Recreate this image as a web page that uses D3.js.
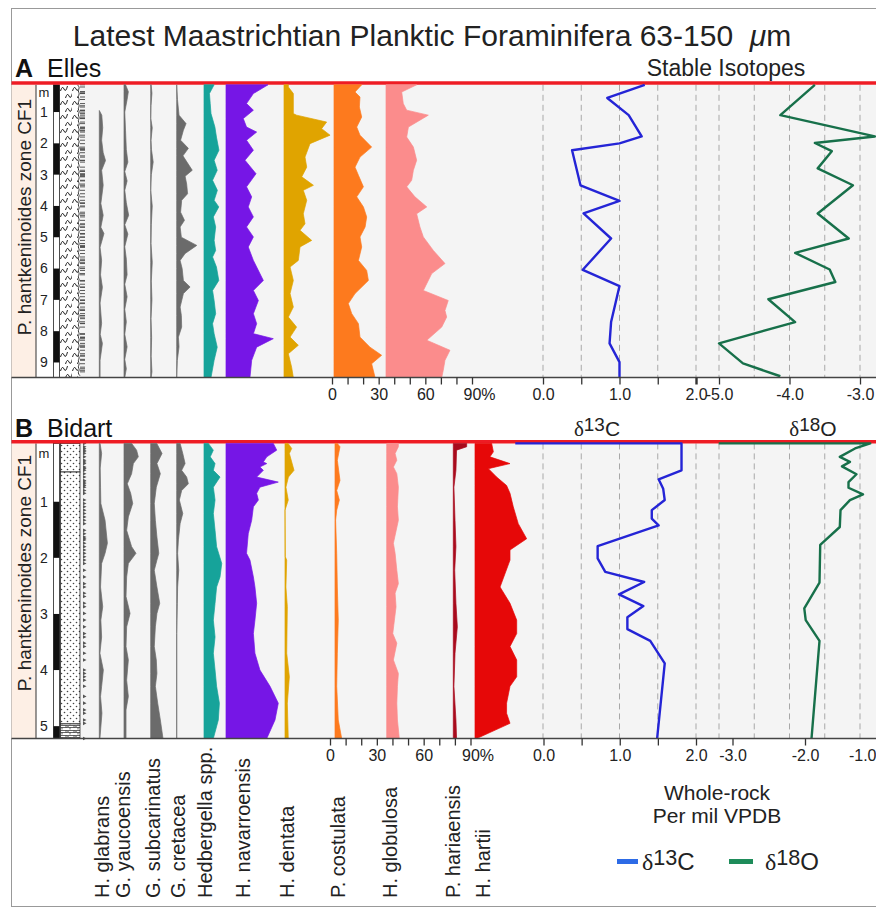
<!DOCTYPE html>
<html>
<head>
<meta charset="utf-8">
<script src="https://cdn.jsdelivr.net/npm/d3@7"></script>
<style>
  body { margin: 0; background: #fff; }
  svg { display: block; font-family: "Liberation Sans", Arial, Helvetica, sans-serif; }
</style>
</head>
<body>
<div id="chart"></div>
<script>
// ---- species names and colours (left to right)
var speciesNames = ["H. glabrans", "G. yaucoensis", "G. subcarinatus", "G. cretacea", "Hedbergella spp.",
  "H. navarroensis", "H. dentata", "P. costulata", "H. globulosa", "P. hariaensis", "H. hartii"];
var speciesColors = ["#6b6b6b", "#6b6b6b", "#6b6b6b", "#6b6b6b", "#16a39a",
  "#7616e6", "#e0a400", "#fd7a1e", "#fb8c8c", "#a80a1c", "#e60808"];

// ---- A Elles: [depth m, relative abundance %]
var topGlabrans = [[0.95,0],[1.1,1.6],[1.5,2.2],[1.9,1.5],[2.3,2.5],[2.55,4.0],[2.86,1.5],[3.34,2.5],[3.92,1.0],[4.3,2.5],[4.68,1.0],[4.88,3.0],[5.32,0.5],[5.74,1.5],[6.2,0.8],[6.6,2.0],[7.1,0.5],[7.75,1.5],[8.1,0.6],[8.39,2.0],[8.93,0.5],[9.48,0.5]];
var topYaucoensis = [[0.13,1.0],[0.35,2.8],[0.6,2.0],[1.0,0.5],[1.6,1.0],[2.2,1.5],[2.6,2.5],[2.9,0.5],[3.2,2.0],[3.5,0.5],[3.9,1.5],[4.3,3.0],[4.6,0.5],[4.9,2.5],[5.3,0.5],[5.7,1.5],[6.2,2.0],[6.5,0.5],[6.9,2.0],[7.3,0.5],[7.7,1.5],[8.1,0.5],[8.5,2.0],[8.9,0.5],[9.2,1.5],[9.48,0.5]];
var topSubcarinatus = [[0.13,0.3],[0.4,0.8],[0.8,0.2],[1.2,0],[1.5,1.0],[1.9,0.2],[2.2,0.5],[2.6,1.6],[3.0,0.4],[3.5,0],[4.0,1.0],[4.6,0.4],[5.2,0.2],[5.8,1.0],[6.4,0.4],[7.0,0.8],[7.6,0.2],[8.2,0.6],[8.8,0.3],[9.3,0.8],[9.48,0.3]];
var topCretacea = [[0.13,0],[0.6,0.5],[1.1,1.5],[1.37,6.0],[1.58,4.3],[1.9,2.5],[2.16,7.5],[2.4,4.0],[2.86,10.0],[3.05,5.4],[3.3,6.4],[3.61,7.0],[3.82,3.2],[4.2,2.5],[4.46,5.0],[4.67,2.2],[5.0,3.0],[5.26,12.9],[5.52,5.4],[5.74,2.2],[6.0,3.5],[6.38,4.3],[6.59,8.6],[6.8,4.3],[7.23,2.2],[7.5,3.0],[7.87,3.2],[8.19,1.1],[8.5,1.5],[8.93,0.4],[9.48,0]];
var topHedbergella = [[0.13,6.5],[0.41,3.5],[0.73,4.0],[1.05,4.5],[1.48,7.0],[1.80,8.0],[2.22,9.6],[2.54,6.5],[2.86,8.5],[3.18,5.5],[3.50,8.6],[3.82,6.5],[4.03,9.5],[4.35,6.0],[4.67,7.5],[5.10,6.5],[5.42,7.5],[5.63,5.5],[5.95,8.0],[6.38,9.5],[6.70,5.5],[7.02,6.5],[7.44,7.5],[7.76,5.5],[8.08,6.5],[8.51,8.5],[8.93,6.5],[9.48,4.5]];
var topNavarroensis = [[0.13,27],[0.41,17.6],[0.73,13.2],[0.94,17.6],[1.21,11.1],[1.48,13.2],[1.64,19.7],[1.90,13.2],[2.22,17.6],[2.54,12.2],[2.97,19.3],[3.39,13.2],[3.71,16.5],[4.03,14.3],[4.35,17.6],[4.67,13.2],[4.99,17.6],[5.31,14.3],[5.74,17.6],[5.95,19.7],[6.38,24.0],[6.70,17.6],[7.02,20.8],[7.44,17.6],[7.76,19.7],[8.08,17.6],[8.24,30.4],[8.51,19.7],[8.93,16.5],[9.48,15.4]];
var topDentata = [[0.13,2.8],[0.20,2.8],[0.41,6.0],[1.05,6.0],[1.10,8.1],[1.32,27.4],[1.53,24.2],[1.74,29.6],[2.01,16.7],[2.44,13.5],[2.76,14.6],[3.07,11.4],[3.34,18.9],[3.50,12.4],[3.82,14.6],[4.25,12.4],[4.57,13.5],[4.78,10.3],[5.10,17.8],[5.31,10.3],[5.74,9.2],[5.95,3.9],[6.38,6.0],[6.80,3.9],[7.23,6.0],[7.55,2.8],[7.87,8.1],[8.19,3.9],[8.45,9.2],[8.72,2.8],[9.15,4.9],[9.48,6.0]];
var topCostulata = [[0.13,17.8],[0.36,13.5],[0.52,16.7],[0.84,16.3],[1.16,17.8],[1.48,14.6],[1.74,16.7],[2.12,24.2],[2.44,16.7],[2.76,13.5],[3.02,15.7],[3.39,18.9],[3.71,14.6],[4.03,18.9],[4.35,21.0],[4.67,20.0],[4.99,16.7],[5.31,17.8],[5.74,15.7],[6.06,21.0],[6.38,22.1],[6.80,13.5],[7.12,9.2],[7.44,11.4],[7.76,15.7],[8.19,16.7],[8.51,23.1],[8.77,30.6],[9.04,24.2],[9.48,26.4]];
var topGlobulosa = [[0.13,19.7],[0.36,10.1],[0.73,11.1],[0.94,13.3],[1.10,27.2],[1.48,14.4],[1.80,13.3],[2.12,17.6],[2.54,19.7],[2.86,17.6],[3.18,16.5],[3.39,13.3],[3.71,18.6],[4.03,26.2],[4.25,19.7],[4.67,21.8],[4.99,24.0],[5.42,30.4],[5.84,37.9],[6.16,29.4],[6.70,24.0],[7.02,40.0],[7.34,37.9],[7.55,39.0],[7.87,35.8],[8.29,26.2],[8.61,41.1],[8.93,37.9],[9.25,36.8],[9.48,35.8]];

// ---- B Bidart: [depth m, relative abundance %]
var botGlabrans = [[-0.04,0.5],[0.14,1.5],[0.4,0.6],[0.74,0.8],[1.03,1.0],[1.33,3.7],[1.74,5.2],[1.92,3.7],[2.10,1.5],[2.52,0.8],[2.87,2.2],[3.11,1.0],[3.41,1.5],[3.70,0.4],[4.00,2.6],[4.29,1.5],[4.47,0.8],[4.77,1.7],[5.22,0.4]];
var botYaucoensis = [[-0.04,4.9],[0.08,8.1],[0.2,9.2],[0.32,6.0],[0.50,4.9],[0.68,2.1],[0.85,4.3],[1.03,5.6],[1.27,2.8],[1.51,1.7],[1.80,4.9],[1.92,7.7],[2.10,2.8],[2.34,1.7],[2.69,1.3],[2.99,3.9],[3.23,1.7],[3.58,1.3],[3.82,2.8],[4.18,1.7],[4.47,2.8],[4.71,1.3],[5.22,1.3]];
var botSubcarinatus = [[-0.04,3.9],[0.14,7.3],[0.32,4.0],[0.50,6.2],[0.74,3.6],[1.03,2.3],[1.33,3.0],[1.63,4.0],[1.92,5.2],[2.04,4.0],[2.22,2.3],[2.52,4.0],[2.81,5.8],[2.99,4.0],[3.23,3.0],[3.58,2.3],[3.82,3.6],[4.06,4.0],[4.29,3.0],[4.59,4.5],[4.89,6.2],[5.22,7.9]];
var botCretacea = [[-0.04,2.2],[0.14,3.9],[0.32,5.4],[0.44,3.2],[0.56,6.4],[0.68,7.5],[0.80,3.2],[0.97,1.7],[1.21,3.9],[1.39,2.2],[1.68,1.1],[1.92,0.6],[2.22,1.3],[2.52,0.6],[2.81,0.4],[3.11,0.2],[3.35,0],[5.22,0]];
var botHedbergella = [[-0.04,2.8],[0.08,6.0],[0.2,4.0],[0.32,7.1],[0.44,6.0],[0.56,10.3],[0.74,6.0],[0.97,7.1],[1.21,6.0],[1.51,7.1],[1.80,8.1],[2.10,11.4],[2.34,10.3],[2.52,8.1],[2.81,7.1],[3.11,6.0],[3.41,7.1],[3.70,6.0],[4.00,7.1],[4.29,8.1],[4.59,9.9],[4.89,9.2],[5.22,6.0]];
var botNavarroensis = [[-0.04,30.4],[0.08,32.6],[0.2,26.2],[0.29,24.0],[0.32,26.2],[0.38,21.8],[0.44,24.0],[0.56,19.7],[0.65,33.6],[0.74,21.8],[0.85,19.7],[0.97,20.8],[1.09,17.6],[1.33,16.5],[1.57,14.3],[1.92,13.2],[2.04,15.4],[2.34,17.6],[2.52,18.6],[2.81,19.7],[3.11,18.6],[3.35,17.6],[3.70,18.6],[4.00,21.8],[4.29,28.3],[4.59,33.6],[4.89,31.5],[5.22,26.2]];
var botDentata = [[-0.04,2.0],[0.05,4.3],[0.14,2.8],[0.44,5.8],[0.56,2.2],[0.74,0.6],[0.97,2.1],[1.15,0],[1.98,0.2],[2.04,1.1],[2.52,0.6],[2.87,1.5],[3.7,1.1],[4.12,2.8],[4.59,1.5],[5.22,2.1]];
var botCostulata = [[-0.04,1.5],[0.02,3.2],[0.26,1.5],[0.62,3.2],[0.80,1.1],[0.97,2.8],[1.15,1.1],[1.33,0.4],[1.92,1.1],[2.52,1.5],[3.11,2.1],[3.70,1.5],[4.29,1.1],[4.89,2.1],[5.22,4.3]];
var botGlobulosa = [[-0.04,7.5],[0.02,7.5],[0.14,5.4],[0.26,6.5],[0.38,4.3],[0.50,6.5],[0.74,7.5],[1.09,6.9],[1.33,7.5],[1.74,4.3],[1.92,5.4],[2.22,6.5],[2.46,7.5],[2.63,5.4],[2.87,6.0],[3.35,3.9],[3.52,6.5],[3.82,4.3],[4.06,7.5],[4.29,6.9],[4.59,6.5],[4.89,6.9],[5.22,8.1]];
var botHariaensis = [[-0.04,8.6],[0.02,8.6],[0.08,2.1],[0.44,1.7],[0.74,0.4],[1.33,1.1],[1.80,1.7],[2.22,0.9],[2.81,1.7],[3.23,2.6],[3.70,1.1],[4.29,0.4],[4.89,1.7],[5.22,2.1]];
var botHartii = [[-0.04,10.7],[0.11,11.8],[0.2,9.6],[0.32,22.5],[0.41,8.6],[0.56,13.9],[0.71,20.3],[0.85,22.5],[1.09,24.6],[1.39,27.8],[1.66,33.2],[1.86,22.5],[2.04,22.5],[2.52,16.1],[2.81,22.5],[3.11,26.8],[3.35,26.8],[3.58,22.5],[3.82,26.8],[4.12,26.8],[4.29,22.5],[4.59,20.3],[4.77,20.3],[4.95,22.5],[5.22,1.1]];

// ---- stable isotopes (per mil VPDB) against depth
var topC13Depth = [0.13,0.55,1.10,1.78,2.00,2.22,3.34,3.84,4.24,5.04,6.04,6.56,7.71,8.39,8.99,9.48];
var topC13 = [1.33,0.84,1.12,1.29,1.00,0.38,0.49,1.00,0.53,0.89,0.52,1.00,0.89,0.87,1.00,1.00];
var topO18Depth = [0.13,1.10,1.78,1.99,2.25,2.80,3.34,4.24,5.04,5.50,6.03,6.43,6.98,7.71,8.39,9.03,9.44];
var topO18 = [-3.64,-4.13,-2.79,-3.64,-3.40,-3.60,-3.10,-3.60,-3.16,-3.92,-3.43,-3.35,-4.30,-3.92,-5.00,-4.66,-4.13];
var botC13Depth = [-0.04,-0.04,0.44,0.60,0.77,0.97,1.15,1.30,1.42,1.79,2.01,2.25,2.43,2.65,2.86,3.06,3.27,3.48,3.88,5.22];
var botC13 = [-0.37,1.81,1.81,1.51,1.57,1.59,1.42,1.42,1.51,0.71,0.71,0.81,1.32,0.99,1.31,1.10,1.10,1.40,1.59,1.49];
var botO18Depth = [-0.04,-0.04,0.05,0.20,0.29,0.37,0.51,0.65,0.75,0.87,0.97,1.15,1.45,1.77,2.44,2.90,3.11,3.48,5.22];
var botO18 = [-3.19,-1.10,-1.31,-1.52,-1.38,-1.49,-1.29,-1.40,-1.40,-1.20,-1.38,-1.51,-1.52,-1.79,-1.80,-2.01,-1.99,-1.80,-1.91];

// ---- tick values / labels
var pctTicks = [0,10,20,30,40,50,60,70,80,90];
var pctLabels = ["0","","","30","","","60","","","90%"];
var c13Ticks = [0,0.5,1,1.5,2];
var c13Labels = ["0.0","","1.0","","2.0"];
var topO18Ticks = [-5,-4,-3];
var topO18Labels = ["-5.0","-4.0","-3.0"];
var botO18Ticks = [-3,-2,-1];
var botO18Labels = ["-3.0","-2.0","-1.0"];
var gridC13 = [0,0.5,1,1.5,2];
var gridO18 = [-5,-4.5,-4,-3.5,-3];
var topDepthTicks = [1,2,3,4,5,6,7,8,9];
var botDepthTicks = [1,2,3,4,5];

// ---- lithology: black scale-bar intervals and units (m)
var topBars = [[0.13,1],[2,3],[4,5],[6,7],[8,9]];
var botBars = [[1,2],[3,4],[5,5.22]];
var botUnits = [[-0.04,0.47,"stipple"],[0.47,4.96,"stipple"],[4.96,5.22,"brick"]];

var width = 876, height = 909;
var svg = d3.select("#chart").append("svg")
  .attr("width", width)
  .attr("height", height);

var pct = d3.scaleLinear().domain([0, 100]).range([0, 155.6]);

// patterns for the lithology column
var defs = svg.append("defs");
var wavy = defs.append("pattern").attr("id", "wavy").attr("patternUnits", "userSpaceOnUse")
  .attr("width", 12).attr("height", 14);
wavy.append("path").attr("d", "M0.5,7 q1.8,-6 3.5,-2 t3.5,-3").attr("fill", "none").attr("stroke", "#222").attr("stroke-width", 1);
wavy.append("path").attr("d", "M5.5,14 q1.8,-6 3.5,-2 t3.5,-3").attr("fill", "none").attr("stroke", "#222").attr("stroke-width", 1);
var stip = defs.append("pattern").attr("id", "stipple").attr("patternUnits", "userSpaceOnUse")
  .attr("width", 6).attr("height", 6);
stip.append("rect").attr("width", 6).attr("height", 6).attr("fill", "#fff");
stip.append("circle").attr("cx", 1.5).attr("cy", 1.5).attr("r", 0.8).attr("fill", "#444");
stip.append("circle").attr("cx", 4.5).attr("cy", 4.5).attr("r", 0.8).attr("fill", "#444");
var brick = defs.append("pattern").attr("id", "brick").attr("patternUnits", "userSpaceOnUse")
  .attr("width", 8).attr("height", 5);
brick.append("rect").attr("width", 8).attr("height", 5).attr("fill", "#fff");
brick.append("path").attr("d", "M0,0.5H8M0,2.5H8M2,0.5V2.5M6,2.5V4.5").attr("stroke", "#222").attr("stroke-width", 0.7);
brick.append("circle").attr("cx", 4).attr("cy", 1.5).attr("r", 0.6).attr("fill", "#222");

// outer frame
svg.append("rect").attr("x", 11.5).attr("y", 8.5).attr("width", 866).attr("height", 898)
  .attr("fill", "none").attr("stroke", "#999");

// title
var title = svg.append("text").attr("x", 432).attr("y", 46).attr("text-anchor", "middle")
  .attr("font-size", 30).attr("fill", "#222");
title.append("tspan").text("Latest Maastrichtian Planktic Foraminifera 63-150\u00a0\u00a0");
title.append("tspan").attr("font-style", "italic").text("\u03bc");
title.append("tspan").text("m");

function deltaLabel(g, x, y, num, el, size, anchor) {
  var t = g.append("text").attr("x", x).attr("y", y).attr("font-size", size)
    .attr("text-anchor", anchor).attr("fill", "#222");
  t.append("tspan").attr("font-family", "'Liberation Serif', 'DejaVu Serif', serif").text("\u03b4");
  t.append("tspan").attr("font-size", size * 0.9).attr("dy", -size * 0.22).text(num);
  t.append("tspan").attr("dy", size * 0.22).text(el);
}

var panels = [
  { letter: "A", site: "Elles", redY: 83, top: 84.8, bottom: 377.5, headY: 77,
    depth: d3.scaleLinear().domain([0.13, 9.48]).range([84.8, 377.5]),
    depthTicks: topDepthTicks, mDepth: 0.38, zoneY: 217, bars: topBars, litho: "marl",
    bases: [99.3, 124, 150.7, 176.7, 204, 226, 284, 334, 386],
    species: [topGlabrans, topYaucoensis, topSubcarinatus, topCretacea, topHedbergella,
      topNavarroensis, topDentata, topCostulata, topGlobulosa],
    pctAxis: d3.scaleLinear().domain([0, 90]).range([332, 472]),
    c13: d3.scaleLinear().domain([0, 2]).range([543, 696]),
    o18: d3.scaleLinear().domain([-5, -3]).range([719, 860]),
    c13d: topC13Depth, c13v: topC13, o18d: topO18Depth, o18v: topO18,
    o18Ticks: topO18Ticks, o18Labels: topO18Labels },
  { letter: "B", site: "Bidart", redY: 441.7, top: 443.4, bottom: 738.5, headY: 436.7,
    depth: d3.scaleLinear().domain([-0.04, 5.22]).range([443.4, 738.5]),
    depthTicks: botDepthTicks, mDepth: 0.14, zoneY: 573, bars: botBars, litho: "sand",
    bases: [99.3, 124, 150.7, 176.7, 204, 226, 285, 335, 386.7, 453.3, 475],
    species: [botGlabrans, botYaucoensis, botSubcarinatus, botCretacea, botHedbergella,
      botNavarroensis, botDentata, botCostulata, botGlobulosa, botHariaensis, botHartii],
    pctAxis: d3.scaleLinear().domain([0, 90]).range([330, 470.5]),
    c13: d3.scaleLinear().domain([0, 2]).range([543.5, 696]),
    o18: d3.scaleLinear().domain([-3, -1]).range([732.5, 877.5]),
    c13d: botC13Depth, c13v: botC13, o18d: botO18Depth, o18v: botO18,
    o18Ticks: botO18Ticks, o18Labels: botO18Labels }
];

var gridX13 = panels[0].c13, gridX18 = panels[0].o18;

panels.forEach(function(p, pi) {
  var g = svg.append("g");
  var y = p.depth;
  var h = p.bottom - p.top;

  // backgrounds
  g.append("rect").attr("x", 80).attr("y", p.top).attr("width", 796).attr("height", h).attr("fill", "#f4f4f4");
  g.append("rect").attr("x", 11.5).attr("y", p.top).attr("width", 24.5).attr("height", h).attr("fill", "#fdefe5");
  g.append("line").attr("x1", 36).attr("x2", 36).attr("y1", p.top).attr("y2", p.bottom).attr("stroke", "#333");

  // zone label
  g.append("text").attr("transform", "translate(24," + p.zoneY + ") rotate(-90)")
    .attr("text-anchor", "middle").attr("dy", "0.35em").attr("font-size", 19).attr("fill", "#222")
    .text("P. hantkeninoides zone CF1");

  // depth numbers
  g.selectAll(".dn").data(p.depthTicks).enter().append("text")
    .attr("x", 44).attr("y", function(d) { return y(d); }).attr("dy", "0.35em")
    .attr("text-anchor", "middle").attr("font-size", 14).attr("fill", "#222")
    .text(function(d) { return d; });
  g.append("text").attr("x", 44).attr("y", y(p.mDepth)).attr("dy", "0.35em")
    .attr("text-anchor", "middle").attr("font-size", 13).attr("fill", "#222").text("m");

  // black/white scale bar
  g.append("rect").attr("x", 53.5).attr("y", p.top).attr("width", 6).attr("height", h)
    .attr("fill", "#fff").attr("stroke", "#222").attr("stroke-width", 0.8);
  g.selectAll(".bar").data(p.bars).enter().append("rect")
    .attr("x", 53.5).attr("width", 6)
    .attr("y", function(d) { return y(d[0]); })
    .attr("height", function(d) { return y(d[1]) - y(d[0]); })
    .attr("fill", "#111");

  // sample positions = every depth that has a count
  var samples = Array.from(new Set([].concat.apply([], p.species.map(function(s) {
    return s.map(function(d) { return d[0]; });
  })))).sort(d3.ascending);

  if (p.litho === "marl") {
    g.append("rect").attr("x", 60).attr("y", p.top).attr("width", 19).attr("height", h).attr("fill", "#fff");
    g.append("rect").attr("x", 60).attr("y", p.top).attr("width", 18).attr("height", h).attr("fill", "url(#wavy)");
    var wv = d3.range(p.top, p.bottom, 3).map(function(yy, i) { return [i % 2 ? 80 : 77.5, yy]; });
    g.append("path").attr("d", d3.line().curve(d3.curveBasis)(wv))
      .attr("fill", "none").attr("stroke", "#222").attr("stroke-width", 0.9);
    g.selectAll(".smp").data(samples).enter().append("line")
      .attr("x1", 80).attr("x2", 85)
      .attr("y1", function(d) { return y(d); }).attr("y2", function(d) { return y(d); })
      .attr("stroke", "#444").attr("stroke-width", 0.9);
  } else {
    g.append("rect").attr("x", 60).attr("y", p.top).attr("width", 21).attr("height", h).attr("fill", "#fff");
    g.selectAll(".unit").data(botUnits).enter().append("rect")
      .attr("x", 60.5).attr("width", 19.5)
      .attr("y", function(d) { return y(d[0]); })
      .attr("height", function(d) { return y(d[1]) - y(d[0]); })
      .attr("fill", function(d) { return "url(#" + d[2] + ")"; })
      .attr("stroke", "#222").attr("stroke-width", 0.8);
    g.selectAll(".smp").data(samples).enter().append("path")
      .attr("d", function(d) { var yy = y(d); return "M83," + (yy - 1.8) + "L86.5," + yy + "L83," + (yy + 1.8) + "Z"; })
      .attr("fill", "#555");
  }

  // isotope grid
  var grid = gridC13.map(gridX13).concat(gridO18.map(gridX18));
  g.selectAll(".grid").data(grid).enter().append("line")
    .attr("x1", function(d) { return d; }).attr("x2", function(d) { return d; })
    .attr("y1", p.top).attr("y2", p.bottom)
    .attr("stroke", "#a8a8a8").attr("stroke-dasharray", "6,4");

  // header line and site label
  g.append("line").attr("x1", 11.5).attr("x2", 876).attr("y1", p.redY).attr("y2", p.redY)
    .attr("stroke", "#ee1c24").attr("stroke-width", 3.4);
  var head = g.append("text").attr("x", 15).attr("y", p.headY).attr("font-size", 25).attr("fill", "#111");
  head.append("tspan").attr("font-weight", "bold").text(p.letter);
  head.append("tspan").attr("x", 47).text(p.site);

  // abundance curves
  p.species.forEach(function(s, i) {
    var base = p.bases[i];
    var area = d3.area()
      .y(function(d) { return y(d[0]); })
      .x0(base)
      .x1(function(d) { return base + pct(d[1]); });
    g.append("path").datum(s).attr("d", area)
      .attr("fill", speciesColors[i]).attr("stroke", speciesColors[i]).attr("stroke-width", 0.7);
  });

  // isotope curves
  var c13Line = d3.line().x(function(d) { return p.c13(d[1]); }).y(function(d) { return y(d[0]); });
  var o18Line = d3.line().x(function(d) { return p.o18(d[1]); }).y(function(d) { return y(d[0]); });
  g.append("path").datum(d3.zip(p.c13d, p.c13v)).attr("d", c13Line)
    .attr("fill", "none").attr("stroke", "#2424d6").attr("stroke-width", 2.4).attr("stroke-linejoin", "round");
  g.append("path").datum(d3.zip(p.o18d, p.o18v)).attr("d", o18Line)
    .attr("fill", "none").attr("stroke", "#17704a").attr("stroke-width", 2.4).attr("stroke-linejoin", "round");

  // bottom border
  g.append("line").attr("x1", 11.5).attr("x2", 876).attr("y1", p.bottom).attr("y2", p.bottom)
    .attr("stroke", "#444").attr("stroke-width", 1.5);

  // axes
  function styleAxis(ax) {
    ax.select(".domain").remove();
    ax.selectAll(".tick line").attr("stroke", "#333").attr("stroke-width", 1.3);
    ax.selectAll(".tick text").attr("font-size", 16).attr("fill", "#222")
      .attr("font-family", "'Liberation Sans', Arial, sans-serif");
  }
  var axP = g.append("g").attr("transform", "translate(0," + p.bottom + ")")
    .call(d3.axisBottom(p.pctAxis).tickValues(pctTicks).tickSize(7).tickPadding(4)
      .tickFormat(function(d, i) { return pctLabels[i]; }));
  styleAxis(axP);
  axP.selectAll(".tick text").filter(function(d) { return d === 90; })
    .attr("text-anchor", "start").attr("x", -9);

  var axC = g.append("g").attr("transform", "translate(0," + p.bottom + ")")
    .call(d3.axisBottom(p.c13).tickValues(c13Ticks).tickSize(7).tickPadding(4)
      .tickFormat(function(d, i) { return c13Labels[i]; }));
  styleAxis(axC);
  if (pi === 0) axC.selectAll(".tick line").filter(function(d) { return d === 2; }).attr("stroke-width", 2.4);

  var axO = g.append("g").attr("transform", "translate(0," + p.bottom + ")")
    .call(d3.axisBottom(p.o18).tickValues(p.o18Ticks).tickSize(7).tickPadding(4)
      .tickFormat(function(d, i) { return p.o18Labels[i]; }));
  styleAxis(axO);
  axO.selectAll(".tick text").each(function(d) {
    var x = p.o18(d);
    if (x + 14 > width) d3.select(this).attr("text-anchor", "end").attr("x", width - x);
  });
});

// headers above the isotope columns
svg.append("text").attr("x", 726).attr("y", 76).attr("text-anchor", "middle")
  .attr("font-size", 23).attr("fill", "#222").text("Stable Isotopes");
deltaLabel(svg, 597, 436, "13", "C", 21, "middle");
deltaLabel(svg, 813, 436, "18", "O", 21, "middle");

// species names
svg.selectAll(".sp").data(speciesNames).enter().append("text")
  .attr("transform", function(d, i) {
    var xs = [101.7, 123, 153, 178, 205, 243, 287, 338, 390, 453, 483];
    return "translate(" + xs[i] + ",898) rotate(-90)";
  })
  .attr("dy", "0.35em").attr("font-size", 20).attr("fill", "#222")
  .text(function(d) { return d; });

// units and legend
svg.append("text").attr("x", 717).attr("y", 800).attr("text-anchor", "middle")
  .attr("font-size", 21).attr("fill", "#222").text("Whole-rock");
svg.append("text").attr("x", 717).attr("y", 822.5).attr("text-anchor", "middle")
  .attr("font-size", 21).attr("fill", "#222").text("Per mil VPDB");
svg.append("line").attr("x1", 617).attr("x2", 638).attr("y1", 861.5).attr("y2", 861.5)
  .attr("stroke", "#2d6be6").attr("stroke-width", 5);
deltaLabel(svg, 642, 870, "13", "C", 24, "start");
svg.append("line").attr("x1", 729).attr("x2", 753).attr("y1", 861.5).attr("y2", 861.5)
  .attr("stroke", "#1e8c5a").attr("stroke-width", 5);
deltaLabel(svg, 765, 870, "18", "O", 24, "start");
</script>
</body>
</html>
